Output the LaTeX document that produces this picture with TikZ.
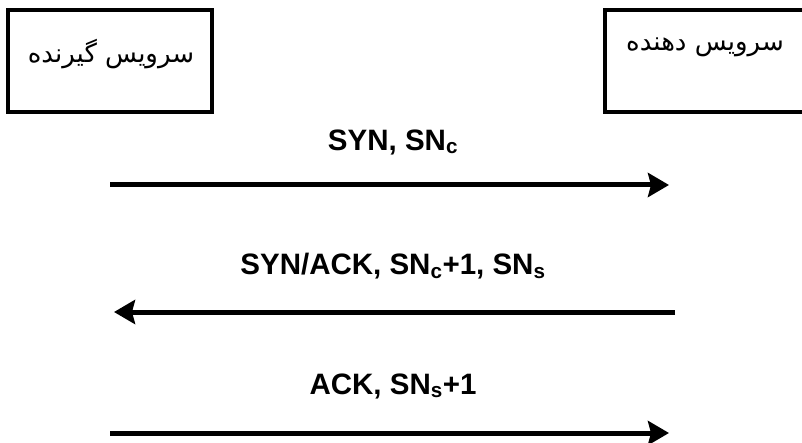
\documentclass[tikz,border=0pt]{standalone}
\usepackage{fontspec}
\setmainfont{Liberation Sans}
\newfontfamily\farsifont[Script=Arabic]{DejaVu Sans}
\TeXXeTstate=1
\usetikzlibrary{arrows.meta}

\tikzset{
    party/.style={draw, line width=4.5pt, minimum width=204pt, minimum height=102pt, inner sep=0pt},
    farsi/.style={font=\farsifont\fontsize{26}{30}\selectfont, inner sep=0pt},
    msg/.style={line width=5pt, -{Stealth[length=21pt,width=24pt,inset=3pt]}},
    msglbl/.style={font=\bfseries\fontsize{29.5}{34}\selectfont, inner sep=0pt}
}

\begin{document}
\begin{tikzpicture}[x=1pt,y=-1pt]
    \useasboundingbox (0,0) rectangle (802,443);

    %the two ends
    \node[party] (client) at (110,61) {};
    \node[party, minimum width=210pt] (server) at (710,61) {};
    \node[farsi] (clientlbl) at (111,54) {\beginR سرویس گیرنده\endR};
    \node[farsi] (serverlbl) at (705,47) {\beginR سرویس دهنده\endR};

    %arrow ends
    \coordinate (c1) at (110,185);
    \coordinate (s1) at (669,185);
    \coordinate (s2) at (675,312);
    \coordinate (c2) at (114,312);
    \coordinate (c3) at (110,433);
    \coordinate (s3) at (669,433);

    %handshake
    \draw[msg] (c1) -- (s1);
    \draw[msg] (s2) -- (c2);
    \draw[msg] (c3) -- (s3);

    %labels
    \node[msglbl] (syn) at (393,142) {SYN, SN\textsubscript{c}};
    \node[msglbl] (synack) at (393,266) {SYN/ACK, SN\textsubscript{c}+1, SN\textsubscript{s}};
    \node[msglbl] (ack) at (393,386) {ACK, SN\textsubscript{s}+1};
\end{tikzpicture}
\end{document}
